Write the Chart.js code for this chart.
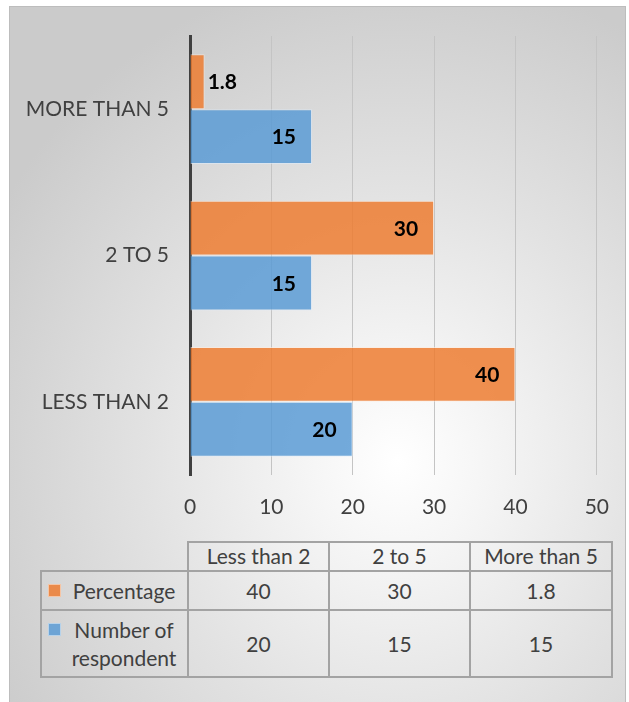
<!DOCTYPE html>
<html>
<head>
<meta charset="utf-8">
<script src="https://cdn.jsdelivr.net/npm/chart.js@4"></script>
<style>
  html, body { margin: 0; padding: 0; background: #ffffff; }
  body { width: 629px; height: 702px; position: relative; overflow: hidden; font-family: Lato, "Open Sans", sans-serif; }
  #frame {
    position: absolute; left: 9px; top: 6px; width: 617px; height: 710px;
    border: 1px solid #bdbdbd; box-sizing: border-box;
    background: radial-gradient(ellipse 75% 70% at 63% 64%, #ffffff 0%, #f6f6f6 18%, #e2e2e2 55%, #cbcbcb 100%);
  }
  #wrap { position: absolute; left: 0; top: 0; width: 629px; height: 540px; }
  #dataTable {
    position: absolute; left: 40px; top: 541px;
    border-collapse: collapse; table-layout: fixed;
    color: #404040; font-size: 21px; font-family: Lato, sans-serif;
  }
  #dataTable td { border: 2px solid #a3a3a3; text-align: center; padding: 0; line-height: 24px; }
  #dataTable td.empty { border: none; }
  .sw { display: inline-block; width: 13px; height: 13px; vertical-align: middle; margin-right: 4px; }
</style>
</head>
<body>
<div id="frame"></div>
<div id="wrap"><canvas id="c" width="629" height="540"></canvas></div>
<table id="dataTable"></table>
<script>
// ---- data ----
const categories   = ['LESS THAN 2', '2 TO 5', 'MORE THAN 5'];
const tableLabels  = ['Less than 2', '2 to 5', 'More than 5'];
const seriesNames  = ['Percentage', 'Number of respondent'];
const percentage   = [40, 30, 1.8];
const respondents  = [20, 15, 15];
const xTicks       = [0, 10, 20, 30, 40, 50];

const orange = 'rgba(237,125,49,0.85)';
const blue   = 'rgba(91,155,213,0.85)';

// chart lists categories top-to-bottom, reference shows MORE THAN 5 on top
const chartLabels = categories.slice().reverse();
const chartPct = percentage.slice().reverse();
const chartResp = respondents.slice().reverse();

const valueLabels = {
  id: 'valueLabels',
  afterDatasetsDraw(chart) {
    const ctx = chart.ctx;
    ctx.save();
    ctx.font = 'bold 21px Lato, sans-serif';
    ctx.fillStyle = '#000000';
    ctx.textBaseline = 'middle';
    chart.data.datasets.forEach((ds, di) => {
      const meta = chart.getDatasetMeta(di);
      meta.data.forEach((bar, i) => {
        const v = ds.data[i];
        const txt = String(v);
        const w = ctx.measureText(txt).width;
        const len = bar.x - bar.base;
        if (len > w + 24) {
          ctx.textAlign = 'right';
          ctx.fillText(txt, bar.x - 16, bar.y + 1);
        } else {
          ctx.textAlign = 'left';
          ctx.fillText(txt, bar.x + 3, bar.y + 1);
        }
      });
    });
    ctx.restore();
  }
};

new Chart(document.getElementById('c'), {
  type: 'bar',
  data: {
    labels: chartLabels,
    datasets: [
      { label: seriesNames[0], data: chartPct, backgroundColor: orange,
        borderColor: 'rgba(255,235,220,0.6)', borderWidth: 1, borderSkipped: 'left',
        categoryPercentage: 0.75, barPercentage: 1.0 },
      { label: seriesNames[1], data: chartResp, backgroundColor: blue,
        borderColor: 'rgba(220,235,250,0.6)', borderWidth: 1, borderSkipped: 'left',
        categoryPercentage: 0.75, barPercentage: 1.0 }
    ]
  },
  options: {
    indexAxis: 'y',
    responsive: false,
    animation: false,
    events: [],
    layout: { padding: { top: 36, right: 30, left: 0, bottom: 0 } },
    plugins: { legend: { display: false }, tooltip: { enabled: false } },
    scales: {
      x: {
        min: 0, max: 50,
        afterBuildTicks: (s) => { s.ticks = xTicks.map(v => ({ value: v })); },
        afterFit: (s) => { s.height = 65; },
        grid: { color: '#c4c4c4', lineWidth: 1, drawTicks: false },
        border: { display: false },
        ticks: { color: '#404040', font: { family: 'Lato', size: 21 }, padding: 20, maxRotation: 0 }
      },
      y: {
        z: 1,
        afterFit: (s) => { s.width = 190; },
        grid: { display: false, drawTicks: false },
        border: { display: true, color: '#404040', width: 3 },
        ticks: { color: '#404040', font: { family: 'Lato', size: 21 }, padding: 21 }
      }
    }
  },
  plugins: [valueLabels]
});

// ---- data table ----
const tbl = document.getElementById('dataTable');
const colW = [147, 141, 141, 142];
const cg = document.createElement('colgroup');
colW.forEach(w => { const c = document.createElement('col'); c.style.width = w + 'px'; cg.appendChild(c); });
tbl.appendChild(cg);
const hr = tbl.insertRow();
hr.style.height = '29px';
const e = hr.insertCell(); e.className = 'empty';
tableLabels.forEach(t => { const c = hr.insertCell(); c.textContent = t; c.style.paddingBottom = '2px'; });
const rows = [
  { color: orange, vals: percentage, h: 39, html: 'Percentage' },
  { color: blue, vals: respondents, h: 67, html: 'Number of<br>respondent' }
];
rows.forEach(r => {
  const tr = tbl.insertRow();
  tr.style.height = r.h + 'px';
  const lc = tr.insertCell();
  lc.style.textAlign = 'left';
  lc.style.padding = '0 4px 0 6px';
  lc.innerHTML = '<div style="display:flex;align-items:flex-start;line-height:28px;"><span class="sw" style="background:' + r.color +
    ';margin-top:7px;border:1px solid rgba(255,255,255,0.5);box-sizing:border-box"></span><span style="flex:1;text-align:center">' +
    r.html + '</span></div>';
  r.vals.forEach(v => { const c = tr.insertCell(); c.textContent = String(v); });
});
</script>
</body>
</html>
